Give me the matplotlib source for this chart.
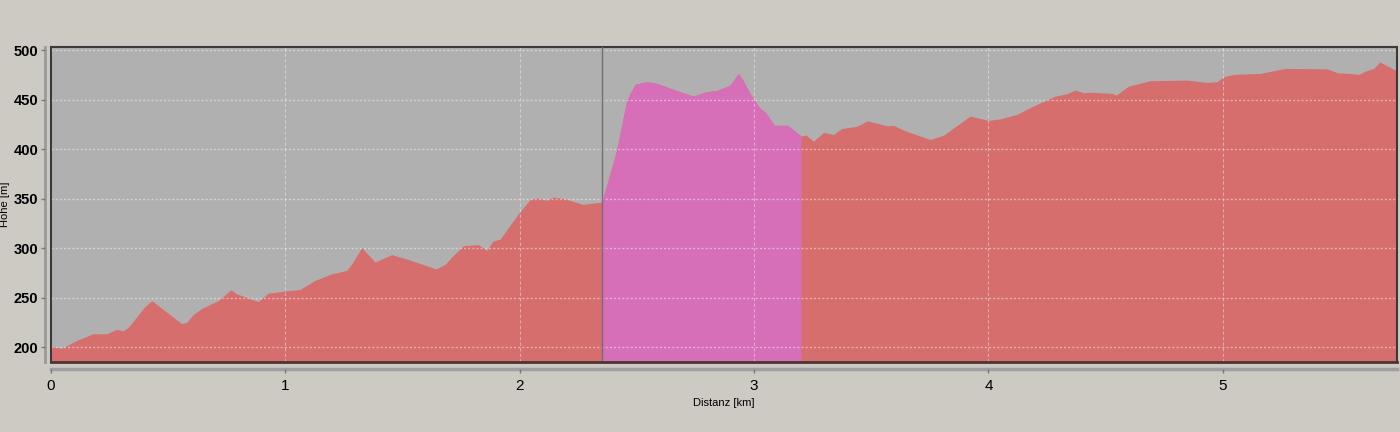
import numpy as np
import matplotlib
matplotlib.use("Agg")
import matplotlib.pyplot as plt

# Höhenprofil (Distanz in km, Höhe in m)
distanz = [0.0, 0.046, 0.11, 0.18, 0.238, 0.28, 0.309, 0.33, 0.401, 0.43,
           0.558, 0.579, 0.607, 0.643, 0.714, 0.768, 0.79, 0.885, 0.927, 0.999,
           1.063, 1.127, 1.198, 1.262, 1.283, 1.326, 1.383, 1.454, 1.518, 1.643,
           1.682, 1.71, 1.76, 1.824, 1.86, 1.885, 1.916, 1.995, 2.044, 2.073,
           2.116, 2.144, 2.2, 2.272, 2.293, 2.346, 2.353, 2.414, 2.457, 2.492,
           2.542, 2.585, 2.67, 2.741, 2.798, 2.841, 2.898, 2.933, 2.952, 2.983,
           3.026, 3.047, 3.086, 3.143, 3.2, 3.222, 3.254, 3.296, 3.339, 3.375,
           3.439, 3.484, 3.567, 3.595, 3.645, 3.752, 3.808, 3.922, 4.0, 4.05,
           4.122, 4.178, 4.285, 4.335, 4.37, 4.406, 4.434, 4.527, 4.545, 4.598,
           4.69, 4.847, 4.932, 4.975, 5.003, 5.046, 5.16, 5.267, 5.445, 5.49,
           5.537, 5.58, 5.609, 5.644, 5.67, 5.73, 5.743]
hoehe = [200.7, 199, 206.8, 213.5, 213.5, 218, 216.5, 220, 241, 247,
         223.7, 225, 233, 239, 247, 258, 254, 246, 254.6, 256.6,
         258.3, 267.4, 274, 277.5, 284, 300.5, 286, 293.4, 289, 279,
         283.6, 291, 302.5, 303.5, 297.8, 307, 309, 335, 349, 350.7,
         348.3, 351.7, 349.3, 344, 345, 346.3, 348.3, 399, 449.5, 465.3,
         468, 466.3, 459, 453.5, 458, 459, 464.6, 476.4, 469.7, 456,
         441, 437.6, 424, 424, 413.4, 414, 408, 416.8, 414.7, 420.8,
         423, 428.5, 423.5, 424, 418.4, 409.7, 414, 433.3, 429, 430.5,
         435, 442, 453.5, 456, 459.6, 456.8, 457.5, 456.2, 454.5, 463.6,
         469, 469.7, 467.3, 468, 473, 475.4, 476.4, 481.5, 481, 477,
         476.4, 475.4, 478.8, 481.5, 488, 480.5, 479]

# markierter Abschnitt
abschnitt_start = 2.353
abschnitt_ende = 3.2

x = np.array(distanz)
y = np.array(hoehe)
y_min, y_max = 185, 503

plt.rcParams["font.family"] = ["Liberation Sans", "DejaVu Sans"]

bg = "#cdc9c3"
fig = plt.figure(figsize=(14, 4.32), dpi=100, facecolor=bg)
ax = fig.add_axes([0.0364, 0.162, 0.9614, 0.729])
ax.set_facecolor("#b0b0b0")

ax.fill_between(x, y, y_min, color="#d66e6e", linewidth=0, zorder=1)
sel = (x >= abschnitt_start) & (x <= abschnitt_ende)
ax.fill_between(x, y, y_min, where=sel, color="#d66eb8", linewidth=0, zorder=2)
ax.axvline(abschnitt_start, color="#7a6a7a", linewidth=1, zorder=3)

ax.set_xlim(0, x[-1])
ax.set_ylim(y_min, y_max)
ax.set_xticks(range(0, 6))
ax.set_yticks(range(200, 501, 50))

ax.grid(True, axis="y", color="white", linestyle=(0, (1.5, 1.5)), linewidth=1, alpha=0.45, zorder=4)
ax.grid(True, axis="x", color="white", linestyle=(0, (3, 2)), linewidth=0.8, alpha=0.4, zorder=4)
ax.set_axisbelow(False)

for s in ["top", "right"]:
    ax.spines[s].set_color("#3a3a3a")
    ax.spines[s].set_linewidth(1.5)
ax.spines["left"].set_color("#9a9a9a")
ax.spines["left"].set_linewidth(2)
ax.spines["left"].set_position(("outward", 4))
ax.spines["bottom"].set_color("#a0a0a0")
ax.spines["bottom"].set_linewidth(2.5)
ax.spines["bottom"].set_position(("outward", 5))
# dunkler Rahmen links und unten
ax.plot([0, 0], [y_min, y_max], color="#3a3a3a", linewidth=1.5, zorder=5, clip_on=False)
ax.plot([0, x[-1]], [y_min, y_min], color="#4a3535", linewidth=2, zorder=5, clip_on=False)

ax.tick_params(axis="both", colors="#7a7a7a", labelcolor="black", length=3, width=1)
ax.tick_params(axis="y", pad=2)
ax.tick_params(axis="x", pad=4)
for lbl in ax.get_yticklabels():
    lbl.set_fontsize(10.5)
    lbl.set_fontweight("bold")
for lbl in ax.get_xticklabels():
    lbl.set_fontsize(11)

ax.set_xlabel("Distanz [km]", fontsize=8, labelpad=4)
ax.set_ylabel("Höhe [m]", fontsize=8)
ax.yaxis.set_label_coords(-0.0305, 0.5)

plt.savefig("out.png", dpi=100, facecolor=bg)
